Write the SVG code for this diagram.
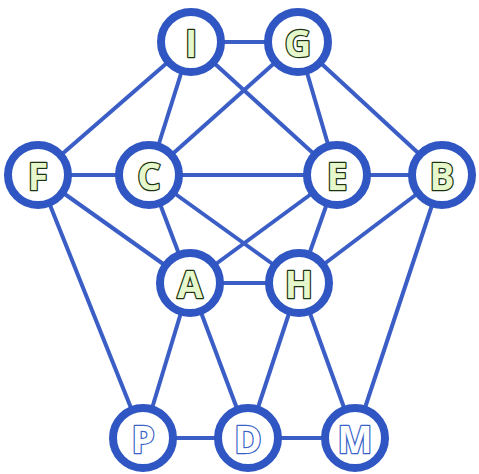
<svg xmlns="http://www.w3.org/2000/svg" width="479" height="474" viewBox="0 0 479 474">
<style>
.e{stroke:#3a5ec6;stroke-width:4;fill:none}
.n circle{fill:#fff;stroke:#2f56c2;stroke-width:8}
.t{font-family:"Open Sans","Liberation Sans",sans-serif;font-weight:bold;font-size:37px;text-anchor:middle;dominant-baseline:central;paint-order:stroke;stroke-width:2.5;stroke-linejoin:round}
.g{fill:#e6f7cc;stroke:#1c3312}
.b{fill:#ffffff;stroke:#3a62c8}
</style>
<rect width="479" height="474" fill="#fff"/>
<g id="edges" class="e">
<line x1="191" y1="42" x2="298" y2="42"/>
<line x1="191" y1="42" x2="38" y2="175"/>
<line x1="191" y1="42" x2="149" y2="175"/>
<line x1="191" y1="42" x2="337" y2="175"/>
<line x1="298" y1="42" x2="149" y2="175"/>
<line x1="298" y1="42" x2="337" y2="175"/>
<line x1="298" y1="42" x2="442" y2="175"/>
<line x1="38" y1="175" x2="149" y2="175"/>
<line x1="38" y1="175" x2="190" y2="283"/>
<line x1="38" y1="175" x2="143" y2="438"/>
<line x1="149" y1="175" x2="337" y2="175"/>
<line x1="149" y1="175" x2="190" y2="283"/>
<line x1="149" y1="175" x2="299" y2="283"/>
<line x1="337" y1="175" x2="442" y2="175"/>
<line x1="337" y1="175" x2="190" y2="283"/>
<line x1="337" y1="175" x2="299" y2="283"/>
<line x1="442" y1="175" x2="299" y2="283"/>
<line x1="442" y1="175" x2="355" y2="438"/>
<line x1="190" y1="283" x2="299" y2="283"/>
<line x1="190" y1="283" x2="143" y2="438"/>
<line x1="190" y1="283" x2="248" y2="438"/>
<line x1="299" y1="283" x2="248" y2="438"/>
<line x1="299" y1="283" x2="355" y2="438"/>
<line x1="143" y1="438" x2="248" y2="438"/>
<line x1="248" y1="438" x2="355" y2="438"/>
</g>
<g id="I" class="n"><circle cx="191" cy="42" r="30"/><text class="t g" x="191" y="42">I</text></g>
<g id="G" class="n"><circle cx="298" cy="42" r="30"/><text class="t g" x="298" y="42">G</text></g>
<g id="F" class="n"><circle cx="38" cy="175" r="30"/><text class="t g" x="38" y="175">F</text></g>
<g id="C" class="n"><circle cx="149" cy="175" r="30"/><text class="t g" x="149" y="175">C</text></g>
<g id="E" class="n"><circle cx="337" cy="175" r="30"/><text class="t g" x="337" y="175">E</text></g>
<g id="B" class="n"><circle cx="442" cy="175" r="30"/><text class="t g" x="442" y="175">B</text></g>
<g id="A" class="n"><circle cx="190" cy="283" r="30"/><text class="t g" x="190" y="283">A</text></g>
<g id="H" class="n"><circle cx="299" cy="283" r="30"/><text class="t g" x="299" y="283">H</text></g>
<g id="P" class="n"><circle cx="143" cy="438" r="30"/><text class="t b" x="143" y="438">P</text></g>
<g id="D" class="n"><circle cx="248" cy="438" r="30"/><text class="t b" x="248" y="438">D</text></g>
<g id="M" class="n"><circle cx="355" cy="438" r="30"/><text class="t b" x="355" y="438">M</text></g>
</svg>
